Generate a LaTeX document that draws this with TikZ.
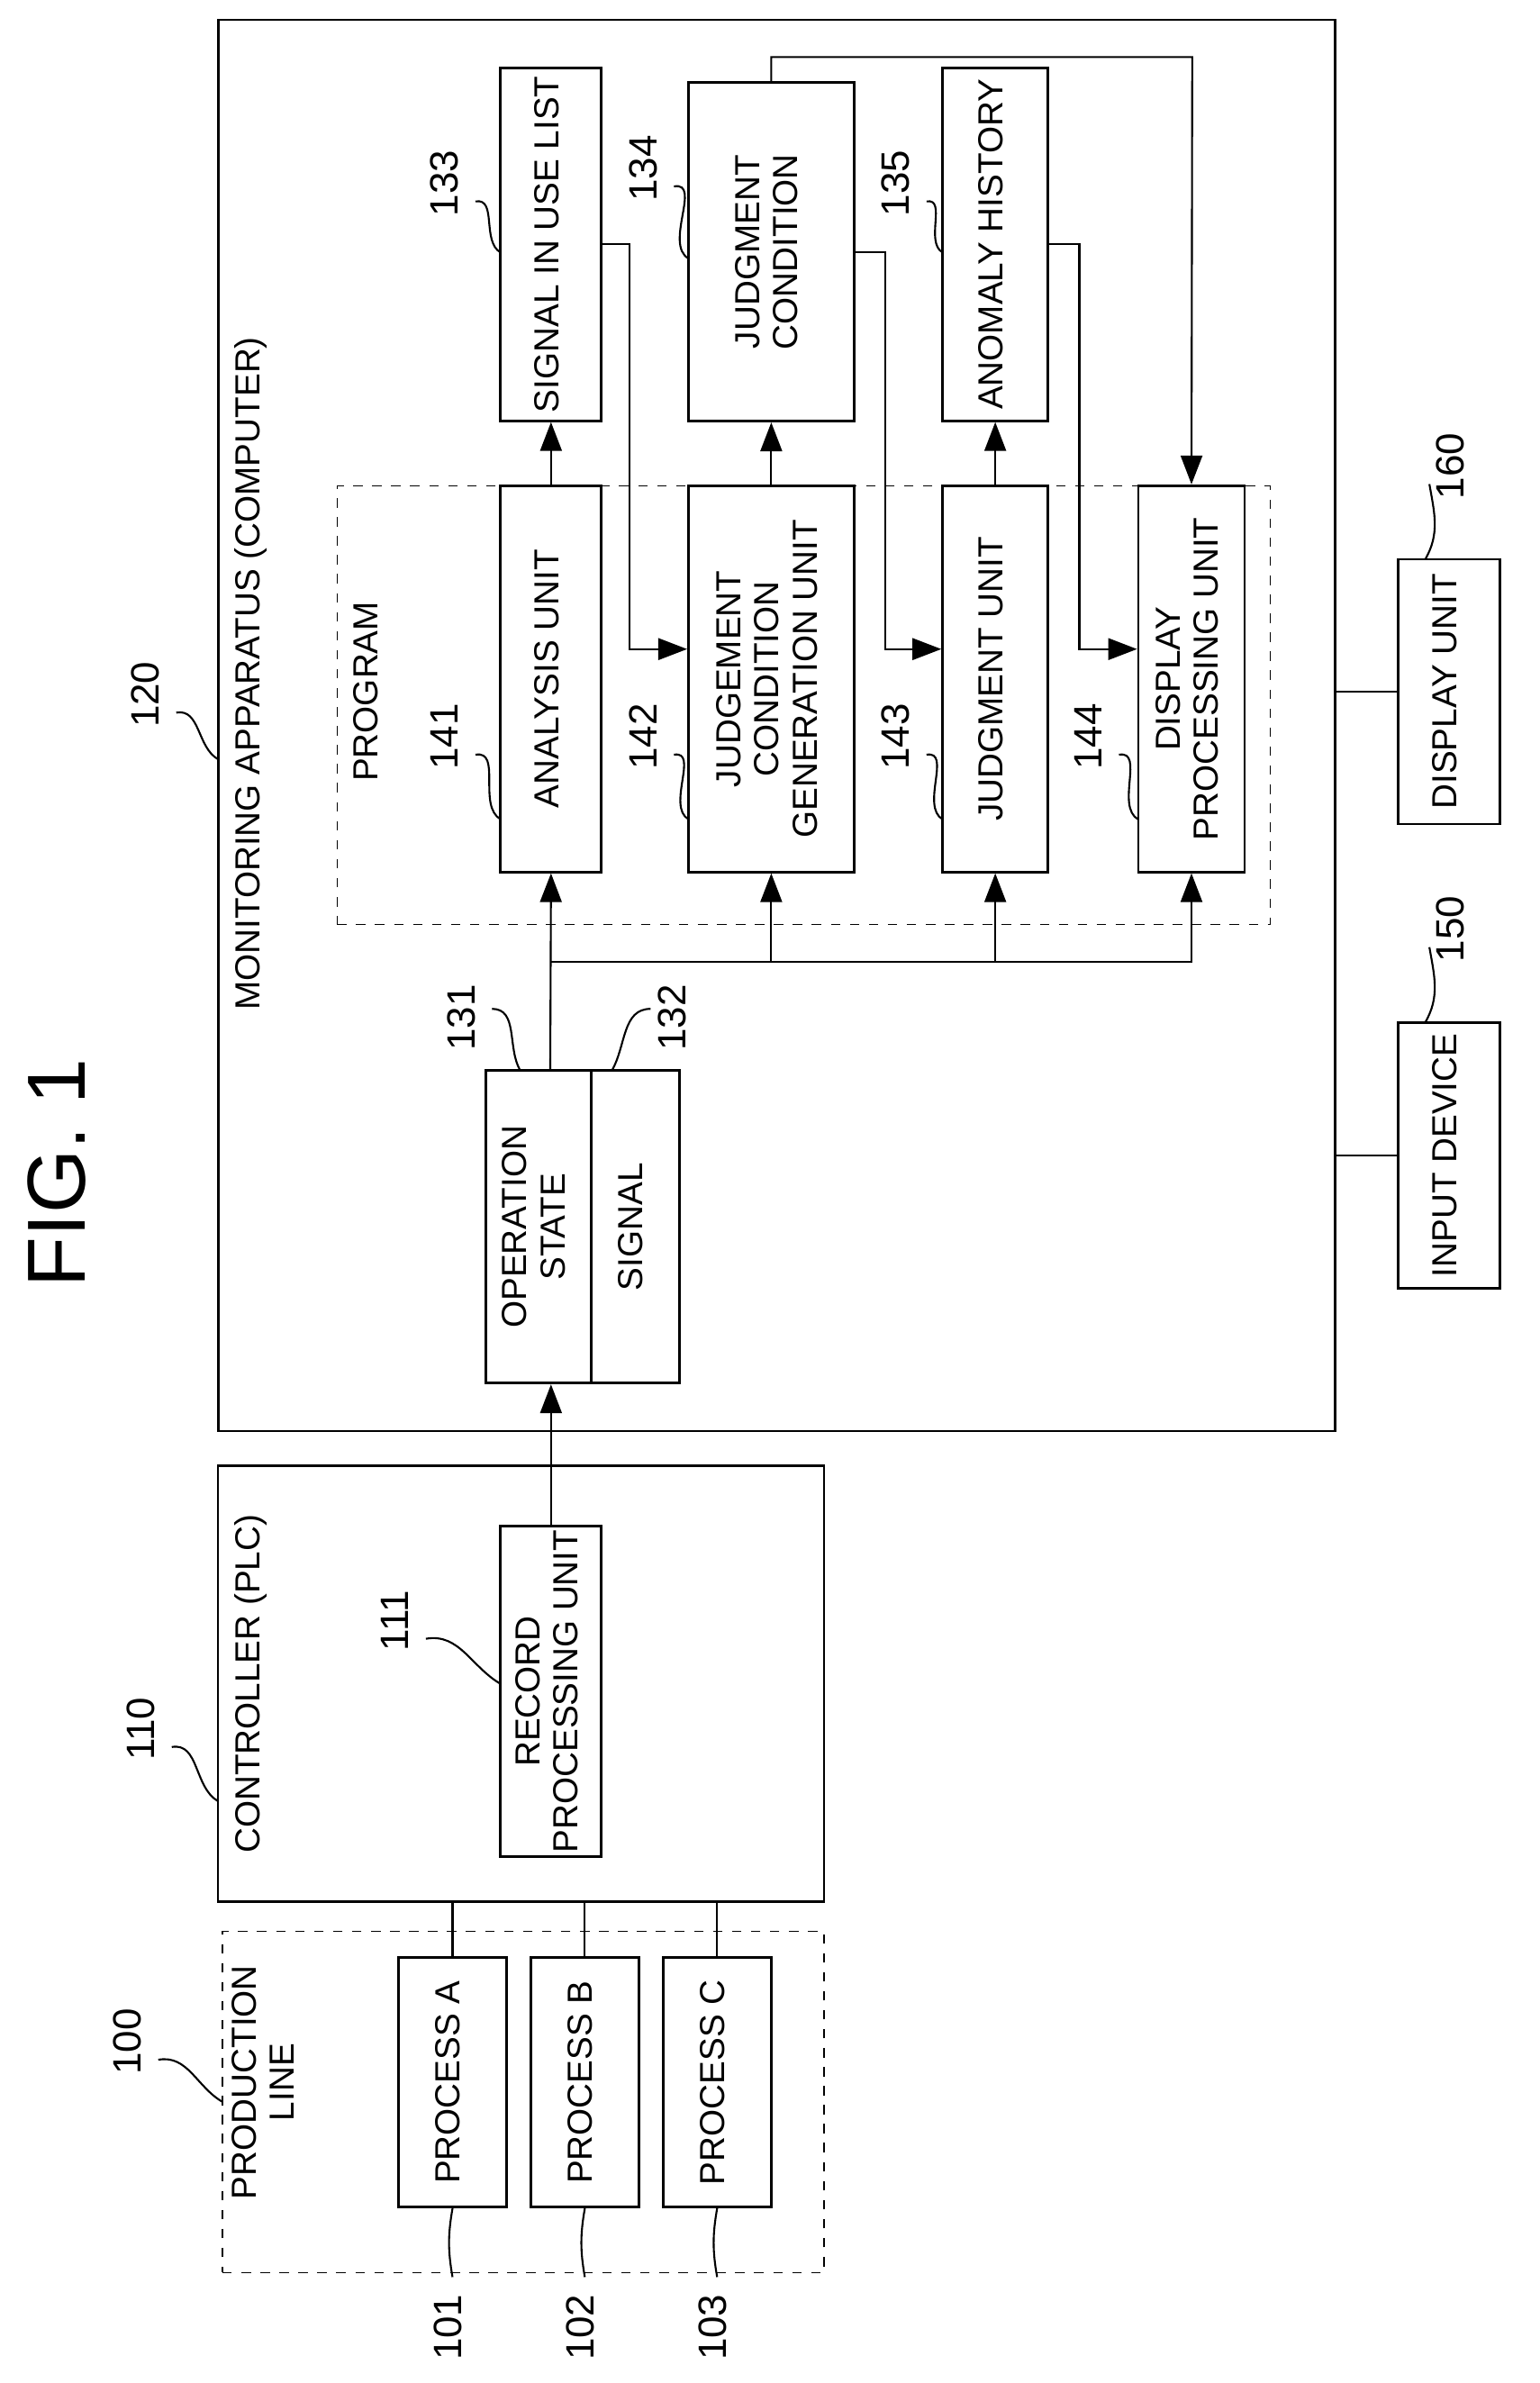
\documentclass[tikz,border=0pt]{standalone}
\usepackage{fontspec}
\setmainfont{Liberation Sans}
\usetikzlibrary{arrows.meta, positioning, calc}
\newcommand{\rt}[1]{\rotatebox{90}{\begin{tabular}{@{}c@{}}#1\end{tabular}}}
\tikzset{%
	box/.style={draw, thick, rectangle, inner sep=0mm, fill=white,%
		font=\fontsize{11}{12}\selectfont},
	dbox/.style={draw, dashed, rectangle, inner sep=0mm},
	num/.style={inner sep=1pt, font=\fontsize{12.5}{14}\selectfont},
	txt/.style={inner sep=1pt, font=\fontsize{11}{12}\selectfont},
	connector/.style={semithick},
	sel/.style={-{Triangle[length=3.2mm,width=2.4mm]},semithick},
	lead/.style={semithick}
}

\begin{document}
\begin{tikzpicture}[x=0.01669cm, y=-0.01669cm]
	\useasboundingbox (0,0) rectangle (1024,1585);
	\node[inner sep=0pt, font=\fontsize{26}{28}\selectfont] (fig) at (45,780) {\rt{FIG. 1}};

	% production line and controller
	\node[dbox, minimum width=6.68cm, minimum height=3.79cm] (line) at (348,1398) {};
	\node[txt] (lineT) at (178,1385) {\rt{PRODUCTION\\LINE}};
	\node[box, minimum width=1.20cm, minimum height=2.77cm] (pa) at (301,1385) {\rt{PROCESS A}};
	\node[box, minimum width=1.20cm, minimum height=2.77cm] (pb) at (389,1385) {\rt{PROCESS B}};
	\node[box, minimum width=1.20cm, minimum height=2.77cm] (pc) at (477,1385) {\rt{PROCESS C}};
	\node[box, minimum width=6.73cm, minimum height=4.84cm] (ctl) at (346.5,1120) {};
	\node[txt] (ctlT) at (168,1120) {\rt{CONTROLLER (PLC)}};
	\node[box, minimum width=1.12cm, minimum height=3.67cm] (rec) at (366.5,1125) {\rt{RECORD\\PROCESSING UNIT}};

	% monitoring apparatus
	\node[box, minimum width=12.40cm, minimum height=15.67cm] (mon) at (516.5,482.5) {};
	\node[txt] (monT) at (168,448) {\rt{MONITORING APPARATUS (COMPUTER)}};
	\node[box, minimum width=1.17cm, minimum height=3.47cm] (op) at (358,816) {\rt{OPERATION\\STATE}};
	\node[box, minimum width=0.98cm, minimum height=3.47cm] (sig) at (422.5,816) {\rt{SIGNAL}};
	\node[dbox, minimum width=10.36cm, minimum height=4.87cm] (prog) at (534.5,469) {};
	\node[txt] (progT) at (246,460) {\rt{PROGRAM}};
	\node[box, minimum width=1.12cm, minimum height=4.29cm] (an) at (366.5,451.5) {\rt{ANALYSIS UNIT}};
	\node[box, minimum width=1.84cm, minimum height=4.29cm] (jcg) at (513,451.5) {\rt{JUDGEMENT\\CONDITION\\GENERATION UNIT}};
	\node[box, minimum width=1.17cm, minimum height=4.29cm] (ju) at (662,451.5) {\rt{JUDGMENT UNIT}};
	\node[box, minimum width=1.18cm, minimum height=4.29cm] (dp) at (792.5,451.5) {\rt{DISPLAY\\PROCESSING UNIT}};
	\node[box, minimum width=1.12cm, minimum height=3.92cm] (sl) at (366.5,162.5) {\rt{SIGNAL IN USE LIST}};
	\node[box, minimum width=1.84cm, minimum height=3.76cm] (jc) at (513,167.5) {\rt{JUDGMENT\\CONDITION}};
	\node[box, minimum width=1.17cm, minimum height=3.92cm] (ah) at (662,162.5) {\rt{ANOMALY HISTORY}};
	\node[box, minimum width=1.13cm, minimum height=2.95cm] (in) at (964,768.5) {\rt{INPUT DEVICE}};
	\node[box, minimum width=1.13cm, minimum height=2.94cm] (disp) at (964,460) {\rt{DISPLAY UNIT}};

	% reference numbers
	\node[num] (l100) at (88,1358) {\rt{100}};
	\node[num] (l110) at (97,1150) {\rt{110}};
	\node[num] (l120) at (100,462) {\rt{120}};
	\node[num] (l111) at (266,1078) {\rt{111}};
	\node[num] (l101) at (301,1548) {\rt{101}};
	\node[num] (l102) at (389,1548) {\rt{102}};
	\node[num] (l103) at (477,1548) {\rt{103}};
	\node[num] (l131) at (310,677) {\rt{131}};
	\node[num] (l132) at (450,677) {\rt{132}};
	\node[num] (l133) at (299,122) {\rt{133}};
	\node[num] (l134) at (431,112) {\rt{134}};
	\node[num] (l135) at (599,122) {\rt{135}};
	\node[num] (l141) at (299,490) {\rt{141}};
	\node[num] (l142) at (431,490) {\rt{142}};
	\node[num] (l143) at (599,490) {\rt{143}};
	\node[num] (l144) at (727,490) {\rt{144}};
	\node[num] (l150) at (968,618) {\rt{150}};
	\node[num] (l160) at (968,310) {\rt{160}};

	\coordinate (bus) at (366,640);
	\coordinate (top) at (793,38);

	\draw[connector] (pa.north) -- (pa.north |- ctl.south);
	\draw[connector] (pb.north) -- (pb.north |- ctl.south);
	\draw[connector] (pc.north) -- (pc.north |- ctl.south);
	\draw[sel] (rec.north) -- (rec.north |- op.south);
	\draw[sel] (op.north -| bus) -- (an.south);
	\draw[sel] (bus) -| (jcg.south);
	\draw[sel] (bus) -| (ju.south);
	\draw[sel] (bus) -| (dp.south);
	\draw[sel] (an.north) -- (an.north |- sl.south);
	\draw[sel] (jcg.north) -- (jc.south);
	\draw[sel] (ju.north) -- (ju.north |- ah.south);
	\draw[sel] (sl.east) -- ++(18,0) |- ([yshift=0.33cm]jcg.west);
	\draw[sel] (jc.east) -- ++(20,0) |- ([yshift=0.33cm]ju.west);
	\draw[sel] (ah.east) -- ++(20,0) |- ([yshift=0.33cm]dp.west);
	\draw[sel] (jc.north) |- (top) -- (dp.north);
	\draw[connector] (in.west -| mon.east) -- (in.west);
	\draw[connector] (disp.west -| mon.east) -- (disp.west);

	% leaders
	\draw[lead] ([yshift=-0.2cm]l100.east) to[out=10,in=150] (148,1398);
	\draw[lead] ([yshift=-0.2cm]l110.east) to[out=10,in=150] (145,1198);
	\draw[lead] ([yshift=-0.2cm]l120.east) to[out=10,in=150] (145,505);
	\draw[lead] ([yshift=-0.2cm]l111.east) to[out=10,in=150] (333,1120);
	\draw[lead] ([yshift=0.15cm]l101.north) to[out=100,in=-100] (pa.south);
	\draw[lead] ([yshift=0.15cm]l102.north) to[out=100,in=-100] (pb.south);
	\draw[lead] ([yshift=0.15cm]l103.north) to[out=100,in=-100] (pc.south);
	\draw[lead] ([yshift=0.1cm]l131.east) to[out=0,in=120] (346,712);
	\draw[lead] ([yshift=0.1cm]l132.west) to[out=180,in=60] (407,712);
	\draw[lead] ([yshift=-0.2cm]l133.east) to[out=10,in=150] (333,168);
	\draw[lead] ([yshift=-0.2cm]l134.east) to[out=10,in=150] (458,172);
	\draw[lead] ([yshift=-0.2cm]l135.east) to[out=10,in=150] (627,168);
	\draw[lead] ([yshift=-0.2cm]l141.east) to[out=10,in=150] (333,545);
	\draw[lead] ([yshift=-0.2cm]l142.east) to[out=10,in=150] (458,545);
	\draw[lead] ([yshift=-0.2cm]l143.east) to[out=10,in=150] (627,545);
	\draw[lead] ([yshift=-0.2cm]l144.east) to[out=10,in=150] (757,545);
	\draw[lead] ([yshift=-0.2cm]l150.west) to[out=-80,in=60] (948,680);
	\draw[lead] ([yshift=-0.2cm]l160.west) to[out=-80,in=60] (948,372);
\end{tikzpicture}
\end{document}
